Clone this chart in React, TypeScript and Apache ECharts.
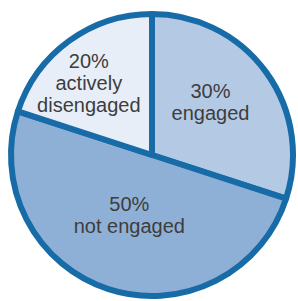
import React, { useEffect, useRef } from "react";
import * as echarts from "echarts";

const categories = ["engaged", "not engaged", "actively\ndisengaged"];
const percents = [30, 50, 20];
const sliceColors = ["#b4c9e3", "#8fb0d6", "#e7eef8"];
const labelShift = [
  [-1, -10],
  [0, -10],
  [-20, -13],
];

export default function App() {
  const ref = useRef<HTMLDivElement>(null);
  useEffect(() => {
    document.body.style.margin = "0";
    const chart = echarts.init(ref.current!, undefined, { renderer: "svg" });
    chart.setOption({
      animation: false,
      backgroundColor: "#ffffff",
      series: [
        {
          type: "pie",
          center: [152, 155],
          radius: [0, 141],
          startAngle: 90,
          clockwise: true,
          silent: true,
          itemStyle: { borderColor: "#176ca8", borderWidth: 6 },
          label: {
            show: true,
            position: "inside",
            fontFamily: "Liberation Sans",
            fontSize: 20,
            lineHeight: 22,
            color: "#3d3d3d",
            align: "center",
            formatter: (p: any) => `${p.value}%\n${p.name}`,
          },
          labelLine: { show: false },
          labelLayout: (p: any) => ({
            dx: labelShift[p.dataIndex][0],
            dy: labelShift[p.dataIndex][1],
          }),
          data: categories.map((c, i) => ({
            name: c,
            value: percents[i],
            itemStyle: { color: sliceColors[i] },
          })),
        },
      ],
    });
    return () => chart.dispose();
  }, []);
  return <div ref={ref} style={{ width: 298, height: 301 }} />;
}
